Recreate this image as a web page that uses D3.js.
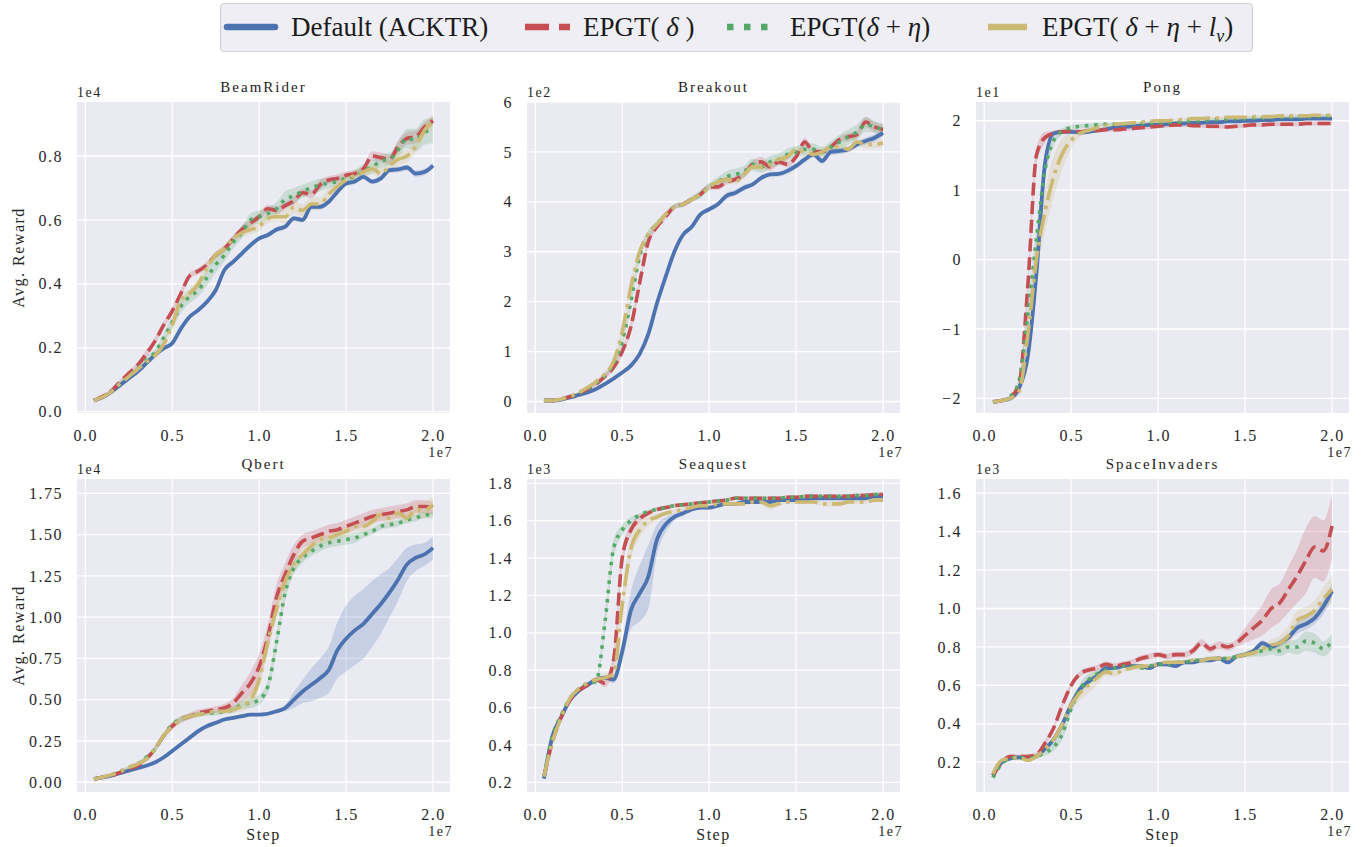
<!DOCTYPE html>
<html>
<head>
<meta charset="utf-8">
<script src="https://cdnjs.cloudflare.com/ajax/libs/d3/7.8.5/d3.min.js"></script>
<style>
body { margin: 0; background: #fff; }
svg { display: block; }
</style>
</head>
<body>
<svg id="chart" width="1364" height="847"></svg>
<script>
// training steps (x 1e7)
var steps = [0.05,0.1,0.15,0.2,0.25,0.3,0.35,0.4,0.45,0.5,0.55,0.6,0.65,0.7,0.75,0.8,0.85,0.9,0.95,1.0,
             1.05,1.1,1.15,1.2,1.25,1.3,1.35,1.4,1.45,1.5,1.55,1.6,1.65,1.7,1.75,1.8,1.85,1.9,1.95,2.0];
var xTicks = [0, 0.5, 1.0, 1.5, 2.0];
var games = ["BeamRider", "Breakout", "Pong", "Qbert", "Seaquest", "SpaceInvaders"];
var methods = ["Default (ACKTR)", "EPGT(δ)", "EPGT(δ+η)", "EPGT(δ+η+l_v)"];

// BeamRider (x 1e4)
var beamDefault = [0.035,0.045,0.062,0.083,0.104,0.125,0.151,0.177,0.198,0.214,0.26,0.297,0.318,0.344,0.38,0.443,0.469,0.495,0.521,0.542,
                   0.553,0.57,0.579,0.605,0.6,0.641,0.641,0.657,0.688,0.714,0.72,0.735,0.72,0.73,0.756,0.758,0.764,0.745,0.75,0.77];
var beamD = [0.035,0.048,0.065,0.094,0.12,0.145,0.18,0.22,0.27,0.315,0.37,0.425,0.44,0.46,0.49,0.51,0.54,0.57,0.59,0.61,
             0.635,0.63,0.645,0.66,0.685,0.68,0.71,0.725,0.73,0.74,0.745,0.76,0.80,0.795,0.79,0.83,0.855,0.86,0.89,0.91];
var beamDE = [0.035,0.046,0.062,0.088,0.11,0.135,0.16,0.185,0.23,0.28,0.33,0.36,0.38,0.42,0.46,0.49,0.53,0.56,0.6,0.61,
              0.62,0.635,0.665,0.675,0.69,0.70,0.71,0.715,0.72,0.73,0.735,0.755,0.765,0.785,0.79,0.82,0.855,0.85,0.875,0.88];
var beamDEL = [0.035,0.046,0.063,0.088,0.11,0.132,0.155,0.175,0.21,0.27,0.35,0.37,0.40,0.45,0.49,0.51,0.54,0.56,0.57,0.58,
               0.605,0.61,0.61,0.64,0.63,0.65,0.65,0.68,0.705,0.725,0.74,0.75,0.76,0.745,0.77,0.79,0.80,0.83,0.88,0.91];
var beamDefaultSd = [0.003,0.003,0.003,0.004,0.004,0.004,0.005,0.005,0.005,0.005,0.006,0.006,0.006,0.006,0.006,0.007,0.007,0.007,0.007,0.007,
                     0.008,0.008,0.008,0.008,0.008,0.008,0.008,0.008,0.008,0.008,0.008,0.008,0.008,0.008,0.008,0.009,0.009,0.01,0.01,0.01];
var beamDSd = [0.003,0.004,0.005,0.006,0.008,0.01,0.012,0.012,0.012,0.012,0.012,0.01,0.01,0.01,0.01,0.012,0.012,0.012,0.012,0.012,
               0.012,0.012,0.012,0.012,0.012,0.012,0.015,0.012,0.012,0.012,0.012,0.012,0.015,0.015,0.015,0.02,0.02,0.02,0.015,0.015];
var beamDESd = [0.003,0.004,0.005,0.006,0.008,0.01,0.012,0.012,0.015,0.02,0.02,0.02,0.02,0.025,0.025,0.02,0.02,0.02,0.02,0.02,
                0.02,0.02,0.025,0.025,0.02,0.02,0.02,0.015,0.015,0.015,0.02,0.02,0.02,0.02,0.02,0.025,0.03,0.035,0.04,0.04];
var beamDELSd = [0.003,0.004,0.005,0.006,0.008,0.01,0.01,0.01,0.012,0.015,0.015,0.015,0.015,0.015,0.012,0.012,0.012,0.015,0.015,0.015,
                 0.015,0.015,0.02,0.02,0.02,0.02,0.02,0.02,0.015,0.015,0.015,0.015,0.015,0.02,0.02,0.02,0.02,0.02,0.02,0.02];

// Breakout (x 1e2)
var brkDefault = [0.02,0.02,0.04,0.08,0.13,0.18,0.25,0.35,0.46,0.58,0.72,0.95,1.35,1.97,2.5,3.0,3.34,3.5,3.75,3.85,
                  3.95,4.12,4.18,4.28,4.35,4.48,4.55,4.56,4.62,4.72,4.85,4.95,4.82,5.0,5.02,5.05,5.15,5.22,5.28,5.38];
var brkD = [0.02,0.02,0.05,0.1,0.16,0.25,0.35,0.5,0.68,1.0,1.5,2.37,3.2,3.5,3.7,3.9,3.95,4.05,4.15,4.3,
            4.3,4.4,4.45,4.55,4.75,4.8,4.7,4.8,4.75,4.9,5.2,5.0,5.0,5.1,5.25,5.3,5.35,5.6,5.5,5.45];
var brkDE = [0.02,0.02,0.05,0.1,0.17,0.26,0.37,0.52,0.75,1.2,2.0,2.9,3.35,3.55,3.75,3.9,3.95,4.05,4.15,4.3,
             4.4,4.5,4.55,4.6,4.75,4.7,4.8,4.85,4.95,5.0,5.05,5.05,5.0,5.1,5.2,5.3,5.4,5.55,5.5,5.45];
var brkDEL = [0.02,0.02,0.05,0.1,0.18,0.28,0.4,0.55,0.8,1.4,2.3,3.0,3.35,3.55,3.75,3.9,3.95,4.05,4.15,4.3,
              4.4,4.45,4.4,4.55,4.7,4.7,4.75,4.85,4.9,5.05,5.0,4.95,5.0,5.1,5.1,5.05,5.2,5.15,5.15,5.18];
var brkDefaultSd = [0.01,0.01,0.01,0.02,0.02,0.02,0.02,0.03,0.03,0.03,0.04,0.05,0.05,0.05,0.05,0.05,0.05,0.05,0.05,0.05,
                    0.05,0.06,0.06,0.06,0.05,0.05,0.05,0.05,0.06,0.06,0.06,0.06,0.06,0.06,0.06,0.06,0.06,0.07,0.07,0.07];
var brkDSd = [0.01,0.01,0.01,0.02,0.02,0.03,0.04,0.05,0.06,0.08,0.1,0.1,0.08,0.06,0.05,0.05,0.05,0.05,0.05,0.05,
              0.06,0.06,0.06,0.06,0.08,0.1,0.08,0.06,0.06,0.06,0.08,0.08,0.06,0.06,0.06,0.08,0.08,0.1,0.1,0.1];
var brkDESd = [0.01,0.01,0.01,0.02,0.02,0.03,0.04,0.05,0.06,0.08,0.1,0.1,0.08,0.06,0.05,0.05,0.05,0.06,0.08,0.08,
               0.1,0.12,0.12,0.12,0.12,0.12,0.12,0.12,0.12,0.12,0.12,0.12,0.1,0.12,0.15,0.15,0.15,0.15,0.12,0.12];
var brkDELSd = [0.01,0.01,0.01,0.02,0.02,0.03,0.04,0.05,0.08,0.1,0.12,0.1,0.08,0.06,0.05,0.05,0.05,0.05,0.05,0.05,
                0.05,0.06,0.06,0.06,0.06,0.08,0.08,0.06,0.06,0.06,0.06,0.06,0.06,0.06,0.06,0.06,0.06,0.08,0.08,0.08];

// Pong (x 1e1)
var pongDefault = [-2.05,-2.03,-2.0,-1.85,-1.4,-0.2,1.4,1.82,1.84,1.84,1.83,1.84,1.86,1.88,1.9,1.91,1.92,1.93,1.94,1.94,
                   1.95,1.96,1.96,1.97,1.97,1.98,1.98,1.99,1.99,2.0,2.0,2.01,2.01,2.02,2.02,2.02,2.03,2.03,2.03,2.03];
var pongD = [-2.05,-2.03,-1.98,-1.8,-0.4,1.5,1.76,1.82,1.84,1.85,1.84,1.86,1.86,1.87,1.87,1.88,1.89,1.9,1.91,1.92,
             1.93,1.94,1.94,1.93,1.93,1.92,1.92,1.91,1.92,1.93,1.94,1.94,1.95,1.95,1.95,1.95,1.96,1.96,1.96,1.96];
var pongDE = [-2.05,-2.03,-1.97,-1.75,-0.8,0.3,1.3,1.72,1.85,1.9,1.92,1.93,1.94,1.95,1.95,1.95,1.96,1.96,1.97,1.97,
              1.98,1.98,1.99,2.0,2.0,2.01,2.02,2.02,2.03,2.03,2.04,2.04,2.05,2.05,2.05,2.06,2.06,2.06,2.07,2.07];
var pongDEL = [-2.05,-2.03,-2.0,-1.9,-1.1,0.0,0.7,1.2,1.53,1.72,1.82,1.86,1.9,1.93,1.95,1.96,1.97,1.98,1.99,2.0,
               2.0,2.01,2.02,2.03,2.03,2.04,2.04,2.05,2.05,2.05,2.06,2.06,2.06,2.07,2.07,2.07,2.07,2.08,2.08,2.08];
var pongDefaultSd = [0.01,0.01,0.02,0.05,0.1,0.12,0.1,0.03,0.02,0.02,0.02,0.02,0.02,0.02,0.02,0.02,0.02,0.02,0.02,0.02,
                     0.02,0.02,0.02,0.02,0.02,0.02,0.02,0.02,0.02,0.02,0.02,0.02,0.02,0.02,0.02,0.02,0.02,0.02,0.02,0.02];
var pongDSd = [0.01,0.01,0.02,0.05,0.15,0.12,0.08,0.04,0.03,0.03,0.03,0.03,0.03,0.03,0.03,0.03,0.03,0.03,0.03,0.03,
               0.03,0.03,0.03,0.03,0.03,0.03,0.03,0.03,0.03,0.03,0.03,0.03,0.03,0.03,0.03,0.03,0.03,0.03,0.03,0.03];
var pongDESd = [0.01,0.01,0.02,0.06,0.15,0.15,0.12,0.08,0.05,0.04,0.03,0.03,0.03,0.02,0.02,0.02,0.02,0.02,0.02,0.02,
                0.02,0.02,0.02,0.02,0.02,0.02,0.02,0.02,0.02,0.02,0.02,0.02,0.02,0.02,0.02,0.02,0.02,0.02,0.02,0.02];
var pongDELSd = [0.01,0.01,0.02,0.05,0.12,0.2,0.3,0.3,0.22,0.12,0.06,0.04,0.03,0.03,0.02,0.02,0.02,0.02,0.02,0.02,
                 0.02,0.02,0.02,0.02,0.02,0.02,0.02,0.02,0.02,0.02,0.02,0.02,0.02,0.02,0.02,0.02,0.02,0.02,0.02,0.02];

// Qbert (x 1e4)
var qbDefault = [0.02,0.03,0.04,0.055,0.07,0.085,0.1,0.12,0.15,0.19,0.23,0.27,0.31,0.34,0.36,0.38,0.39,0.4,0.41,0.41,
                 0.415,0.43,0.45,0.5,0.55,0.59,0.63,0.68,0.8,0.87,0.92,0.96,1.02,1.08,1.15,1.23,1.32,1.36,1.38,1.42];
var qbD = [0.02,0.03,0.04,0.06,0.08,0.1,0.14,0.2,0.28,0.34,0.38,0.4,0.42,0.43,0.44,0.45,0.48,0.54,0.6,0.7,
           0.88,1.12,1.26,1.38,1.46,1.48,1.5,1.52,1.53,1.55,1.57,1.59,1.61,1.62,1.63,1.64,1.65,1.67,1.67,1.66];
var qbDE = [0.02,0.03,0.045,0.065,0.09,0.11,0.15,0.2,0.28,0.35,0.38,0.4,0.41,0.42,0.42,0.43,0.44,0.47,0.48,0.5,
            0.58,0.85,1.15,1.3,1.36,1.4,1.43,1.45,1.46,1.47,1.48,1.5,1.52,1.55,1.56,1.57,1.59,1.6,1.62,1.62];
var qbDEL = [0.02,0.03,0.045,0.065,0.09,0.11,0.14,0.2,0.28,0.34,0.38,0.4,0.41,0.42,0.43,0.43,0.44,0.46,0.5,0.62,
             0.85,1.05,1.22,1.32,1.38,1.43,1.47,1.48,1.5,1.52,1.55,1.55,1.58,1.62,1.6,1.63,1.6,1.65,1.65,1.68];
var qbDefaultSd = [0.005,0.005,0.005,0.005,0.006,0.006,0.007,0.008,0.01,0.012,0.014,0.015,0.015,0.015,0.012,0.01,0.01,0.01,0.01,0.01,
                   0.01,0.012,0.02,0.05,0.07,0.1,0.12,0.14,0.17,0.2,0.21,0.21,0.2,0.18,0.15,0.13,0.1,0.08,0.07,0.07];
var qbDSd = [0.005,0.005,0.005,0.008,0.01,0.012,0.015,0.02,0.02,0.02,0.02,0.02,0.02,0.02,0.02,0.025,0.03,0.05,0.07,0.08,
             0.08,0.08,0.07,0.06,0.04,0.04,0.04,0.04,0.04,0.04,0.04,0.04,0.04,0.04,0.04,0.04,0.04,0.04,0.04,0.04];
var qbDESd = [0.005,0.005,0.005,0.008,0.01,0.012,0.015,0.02,0.02,0.02,0.02,0.015,0.015,0.015,0.015,0.015,0.02,0.025,0.03,0.03,
              0.04,0.05,0.05,0.04,0.03,0.03,0.03,0.03,0.03,0.03,0.03,0.02,0.02,0.02,0.02,0.02,0.02,0.02,0.02,0.02];
var qbDELSd = [0.005,0.005,0.005,0.008,0.01,0.012,0.015,0.02,0.02,0.02,0.02,0.015,0.015,0.015,0.015,0.015,0.02,0.03,0.04,0.05,
               0.06,0.06,0.06,0.05,0.04,0.03,0.03,0.03,0.03,0.03,0.03,0.03,0.03,0.03,0.03,0.03,0.03,0.04,0.05,0.05];

// Seaquest (x 1e3)
var sqDefault = [0.22,0.45,0.55,0.64,0.69,0.72,0.75,0.76,0.75,0.9,1.12,1.21,1.3,1.5,1.58,1.62,1.64,1.66,1.67,1.67,
                 1.68,1.69,1.69,1.7,1.7,1.7,1.7,1.71,1.71,1.71,1.71,1.72,1.72,1.72,1.72,1.72,1.72,1.72,1.73,1.73];
var sqD = [0.23,0.42,0.55,0.64,0.69,0.72,0.75,0.73,0.85,1.4,1.55,1.61,1.64,1.66,1.67,1.68,1.685,1.69,1.695,1.7,
           1.705,1.71,1.72,1.72,1.72,1.72,1.72,1.72,1.725,1.725,1.73,1.73,1.73,1.73,1.73,1.73,1.735,1.735,1.74,1.74];
var sqDE = [0.23,0.45,0.56,0.65,0.7,0.73,0.74,1.05,1.45,1.55,1.6,1.63,1.65,1.66,1.67,1.68,1.685,1.69,1.695,1.7,
            1.705,1.71,1.72,1.72,1.72,1.72,1.72,1.72,1.725,1.725,1.73,1.73,1.73,1.73,1.73,1.73,1.735,1.735,1.74,1.74];
var sqDEL = [0.23,0.42,0.55,0.65,0.7,0.73,0.75,0.76,0.78,1.15,1.45,1.55,1.6,1.62,1.64,1.65,1.66,1.67,1.68,1.68,
             1.69,1.69,1.69,1.69,1.7,1.7,1.68,1.69,1.7,1.7,1.7,1.7,1.69,1.69,1.69,1.7,1.7,1.7,1.71,1.71];
var sqDefaultSd = [0.01,0.02,0.01,0.01,0.01,0.01,0.01,0.01,0.02,0.05,0.1,0.15,0.17,0.08,0.04,0.02,0.015,0.01,0.01,0.01,
                   0.01,0.01,0.01,0.01,0.01,0.01,0.01,0.01,0.01,0.01,0.01,0.01,0.01,0.01,0.01,0.01,0.01,0.01,0.01,0.01];
var sqDSd = [0.01,0.02,0.01,0.01,0.01,0.01,0.01,0.02,0.05,0.05,0.03,0.02,0.01,0.01,0.01,0.01,0.01,0.01,0.01,0.01,
             0.01,0.01,0.01,0.01,0.01,0.01,0.01,0.01,0.01,0.01,0.01,0.01,0.01,0.01,0.01,0.01,0.01,0.01,0.01,0.01];
var sqDESd = [0.01,0.02,0.01,0.01,0.01,0.01,0.02,0.05,0.05,0.03,0.02,0.01,0.01,0.01,0.01,0.01,0.01,0.01,0.01,0.01,
              0.01,0.01,0.01,0.01,0.01,0.01,0.01,0.01,0.01,0.01,0.01,0.01,0.01,0.01,0.01,0.01,0.01,0.01,0.01,0.01];
var sqDELSd = [0.01,0.02,0.01,0.01,0.01,0.01,0.01,0.02,0.03,0.06,0.06,0.04,0.03,0.02,0.01,0.01,0.01,0.01,0.01,0.01,
               0.01,0.01,0.01,0.01,0.01,0.015,0.02,0.015,0.01,0.01,0.01,0.01,0.01,0.015,0.015,0.01,0.01,0.01,0.01,0.01];

// SpaceInvaders (x 1e3)
var siDefault = [0.13,0.2,0.22,0.225,0.22,0.23,0.27,0.32,0.4,0.5,0.58,0.62,0.65,0.69,0.69,0.7,0.7,0.7,0.69,0.71,
                 0.71,0.7,0.72,0.72,0.73,0.73,0.74,0.72,0.75,0.76,0.78,0.82,0.8,0.82,0.85,0.9,0.92,0.95,1.01,1.09];
var siD = [0.13,0.2,0.23,0.23,0.23,0.24,0.3,0.38,0.5,0.6,0.66,0.68,0.69,0.71,0.7,0.71,0.72,0.74,0.75,0.76,
           0.75,0.76,0.76,0.78,0.82,0.79,0.81,0.8,0.82,0.86,0.9,0.94,1.0,1.03,1.1,1.17,1.25,1.32,1.3,1.43];
var siDE = [0.12,0.19,0.22,0.225,0.22,0.23,0.25,0.28,0.35,0.48,0.58,0.63,0.66,0.68,0.69,0.7,0.7,0.69,0.7,0.71,
            0.71,0.72,0.72,0.73,0.73,0.74,0.74,0.74,0.75,0.76,0.77,0.78,0.79,0.78,0.8,0.8,0.83,0.82,0.79,0.83];
var siDEL = [0.14,0.21,0.22,0.225,0.21,0.23,0.27,0.32,0.4,0.5,0.56,0.6,0.64,0.67,0.66,0.68,0.69,0.7,0.7,0.71,
             0.72,0.72,0.72,0.73,0.73,0.74,0.74,0.74,0.75,0.76,0.77,0.79,0.81,0.82,0.86,0.94,0.96,0.99,1.05,1.1];
var siDefaultSd = [0.01,0.01,0.01,0.01,0.01,0.01,0.01,0.015,0.015,0.015,0.015,0.015,0.01,0.01,0.01,0.01,0.01,0.01,0.01,0.01,
                   0.01,0.01,0.01,0.01,0.01,0.01,0.01,0.01,0.01,0.01,0.01,0.015,0.015,0.02,0.02,0.03,0.03,0.03,0.04,0.04];
var siDSd = [0.01,0.01,0.01,0.01,0.01,0.01,0.015,0.015,0.015,0.015,0.015,0.015,0.015,0.015,0.015,0.015,0.015,0.015,0.015,0.015,
             0.015,0.015,0.015,0.02,0.02,0.02,0.02,0.02,0.02,0.04,0.06,0.08,0.1,0.1,0.12,0.14,0.17,0.16,0.16,0.17];
var siDESd = [0.01,0.01,0.01,0.01,0.01,0.01,0.015,0.02,0.03,0.03,0.03,0.03,0.015,0.01,0.01,0.01,0.01,0.01,0.01,0.01,
              0.01,0.01,0.01,0.01,0.01,0.01,0.01,0.01,0.01,0.015,0.02,0.03,0.03,0.03,0.03,0.04,0.05,0.05,0.04,0.04];
var siDELSd = [0.01,0.01,0.01,0.01,0.01,0.01,0.015,0.015,0.02,0.03,0.04,0.04,0.04,0.02,0.015,0.01,0.01,0.01,0.01,0.01,
               0.01,0.01,0.01,0.01,0.01,0.01,0.01,0.01,0.01,0.015,0.02,0.02,0.03,0.04,0.05,0.05,0.05,0.05,0.06,0.07];

// y tick values and exponent labels
var beamTicks = [0, 0.2, 0.4, 0.6, 0.8];
var brkTicks = [0, 1, 2, 3, 4, 5, 6];
var pongTicks = [-2, -1, 0, 1, 2];
var qbTicks = [0, 0.25, 0.5, 0.75, 1.0, 1.25, 1.5, 1.75];
var sqTicks = [0.2, 0.4, 0.6, 0.8, 1.0, 1.2, 1.4, 1.6, 1.8];
var siTicks = [0.2, 0.4, 0.6, 0.8, 1.0, 1.2, 1.4, 1.6];
var exponents = ["1e4", "1e2", "1e1", "1e4", "1e3", "1e3"];

var panels = [
    {means: [beamDefault, beamD, beamDE, beamDEL], sds: [beamDefaultSd, beamDSd, beamDESd, beamDELSd], ticks: beamTicks, fmt: ".1f", domain: [-0.004, 0.969]},
    {means: [brkDefault, brkD, brkDE, brkDEL], sds: [brkDefaultSd, brkDSd, brkDESd, brkDELSd], ticks: brkTicks, fmt: "d", domain: [-0.23, 6.0]},
    {means: [pongDefault, pongD, pongDE, pongDEL], sds: [pongDefaultSd, pongDSd, pongDESd, pongDELSd], ticks: pongTicks, fmt: "d", domain: [-2.21, 2.27]},
    {means: [qbDefault, qbD, qbDE, qbDEL], sds: [qbDefaultSd, qbDSd, qbDESd, qbDELSd], ticks: qbTicks, fmt: ".2f", domain: [-0.059, 1.837]},
    {means: [sqDefault, sqD, sqDE, sqDEL], sds: [sqDefaultSd, sqDSd, sqDESd, sqDELSd], ticks: sqTicks, fmt: ".1f", domain: [0.148, 1.823]},
    {means: [siDefault, siD, siDE, siDEL], sds: [siDefaultSd, siDSd, siDESd, siDELSd], ticks: siTicks, fmt: ".1f", domain: [0.045, 1.674]}
];

var colors = ["#4c72b0", "#c44e52", "#55a868", "#ccb974"];
var dashes = [null, "13,5.6", "3.5,5.8", "22.4,5.6,3.5,5.6"];
var lineWidths = [3.8, 3.6, 3.6, 3.6];

var lefts = [77, 527, 976];
var tops = [102, 479];
var heights = [311, 313];
var plotW = 373;
var serif = "'Liberation Serif', 'Times New Roman', serif";

var svg = d3.select("#chart");

panels.forEach(function(p, i) {
    var col = i % 3, row = Math.floor(i / 3);
    var left = lefts[col], top = tops[row], h = heights[row];

    var x = d3.scaleLinear().domain([-0.0475, 2.0975]).range([0, plotW]);
    var y = d3.scaleLinear().domain(p.domain).range([h, 0]);

    var g = svg.append("g").attr("transform", "translate(" + left + "," + top + ")");

    g.append("rect")
        .attr("width", plotW)
        .attr("height", h)
        .style("fill", "#eaeaf2");

    g.append("clipPath").attr("id", "clip" + i)
        .append("rect").attr("width", plotW).attr("height", h);

    // grid
    g.selectAll(".gx").data(xTicks).enter().append("line")
        .attr("x1", function(d) { return x(d); })
        .attr("x2", function(d) { return x(d); })
        .attr("y1", 0).attr("y2", h)
        .style("stroke", "#fff").style("stroke-width", 1.3);
    g.selectAll(".gy").data(p.ticks).enter().append("line")
        .attr("y1", function(d) { return y(d); })
        .attr("y2", function(d) { return y(d); })
        .attr("x1", 0).attr("x2", plotW)
        .style("stroke", "#fff").style("stroke-width", 1.3);

    // tick labels
    var yAxis = d3.axisLeft(y).tickValues(p.ticks).tickFormat(d3.format(p.fmt)).tickSize(0).tickPadding(14);
    var ya = g.append("g").call(yAxis);
    var xAxis = d3.axisBottom(x).tickValues(xTicks).tickFormat(d3.format(".1f")).tickSize(0).tickPadding(14);
    var xa = g.append("g").attr("transform", "translate(0," + h + ")").call(xAxis);
    [ya, xa].forEach(function(a) {
        a.select(".domain").remove();
        a.selectAll("text")
            .style("font-family", serif)
            .style("font-size", "16px")
            .style("letter-spacing", "1.5px")
            .style("fill", "#262626");
    });
    xa.selectAll("text").attr("dy", "0.9em");

    // bands and lines
    var plot = g.append("g").attr("clip-path", "url(#clip" + i + ")");
    p.means.forEach(function(m, k) {
        var sd = p.sds[k];
        var area = d3.area()
            .x(function(d, j) { return x(steps[j]); })
            .y0(function(d, j) { return y(m[j] - sd[j]); })
            .y1(function(d, j) { return y(m[j] + sd[j]); })
            .curve(d3.curveMonotoneX);
        plot.append("path")
            .attr("d", area(m))
            .style("fill", colors[k])
            .style("fill-opacity", 0.22)
            .style("stroke", "none");
    });
    p.means.forEach(function(m, k) {
        var line = d3.line()
            .x(function(d, j) { return x(steps[j]); })
            .y(function(d) { return y(d); })
            .curve(d3.curveMonotoneX);
        plot.append("path")
            .attr("d", line(m))
            .style("fill", "none")
            .style("stroke", colors[k])
            .style("stroke-width", lineWidths[k])
            .style("stroke-dasharray", dashes[k]);
    });

    // title and exponents
    g.append("text")
        .attr("x", plotW / 2).attr("y", -10)
        .attr("text-anchor", "middle")
        .style("font-family", serif).style("font-size", "15px")
        .style("letter-spacing", "2px").style("fill", "#222")
        .text(games[i]);
    g.append("text")
        .attr("x", 0).attr("y", -5)
        .style("font-family", serif).style("font-size", "14px")
        .style("letter-spacing", "1.5px").style("fill", "#262626")
        .text(exponents[i]);
    g.append("text")
        .attr("x", plotW + 3).attr("y", h + 44)
        .attr("text-anchor", "end")
        .style("font-family", serif).style("font-size", "14px")
        .style("letter-spacing", "1.5px").style("fill", "#262626")
        .text("1e7");

    if (col == 0) {
        g.append("text")
            .attr("transform", "translate(-53," + (h / 2) + ") rotate(-90)")
            .attr("text-anchor", "middle")
            .style("font-family", serif).style("font-size", "16px")
            .style("letter-spacing", "1.5px").style("fill", "#262626")
            .text("Avg. Reward");
    }
    if (row == 1) {
        g.append("text")
            .attr("x", plotW / 2).attr("y", h + 48)
            .attr("text-anchor", "middle")
            .style("font-family", serif).style("font-size", "16px")
            .style("letter-spacing", "1.5px").style("fill", "#262626")
            .text("Step");
    }
});

// legend
var legend = svg.append("g");
legend.append("rect")
    .attr("x", 220.5).attr("y", 3.5)
    .attr("width", 1032).attr("height", 48)
    .attr("rx", 4)
    .style("fill", "#eeeef4")
    .style("stroke", "#cfcfd4")
    .style("stroke-width", 1.2);

var legLines = [[227, 275], [525, 570], [727, 773], [988, 1027]];
var legDashes = [null, "24,10", "6.5,10.5", null];
var legTextX = [291, 583, 790, 1042];

legLines.forEach(function(d, k) {
    legend.append("line")
        .attr("x1", d[0]).attr("x2", d[1])
        .attr("y1", 27).attr("y2", 27)
        .style("stroke", colors[k])
        .style("stroke-width", 6.5)
        .style("stroke-linecap", k == 0 ? "round" : "butt")
        .style("stroke-dasharray", legDashes[k]);
});

function mathPart(t, parts) {
    parts.forEach(function(s) {
        var ts = t.append("tspan").text(s[0]);
        if (s[1] == "i") ts.style("font-style", "italic");
        if (s[1] == "sub") ts.style("font-style", "italic").style("font-size", "18px").attr("dy", 6);
        if (s[1] == "up") ts.attr("dy", -6);
    });
}
var legParts = [
    [["Default (ACKTR)", ""]],
    [["EPGT( ", ""], ["δ", "i"], [" )", ""]],
    [["EPGT(", ""], ["δ", "i"], [" + ", ""], ["η", "i"], [")", ""]],
    [["EPGT( ", ""], ["δ", "i"], [" + ", ""], ["η", "i"], [" + ", ""], ["l", "i"], ["v", "sub"], [")", "up"]]
];
legParts.forEach(function(parts, k) {
    var t = legend.append("text")
        .attr("x", legTextX[k]).attr("y", 36)
        .style("font-family", serif).style("font-size", "27px")
        .style("fill", "#1a1a1a");
    mathPart(t, parts);
});
</script>
</body>
</html>
